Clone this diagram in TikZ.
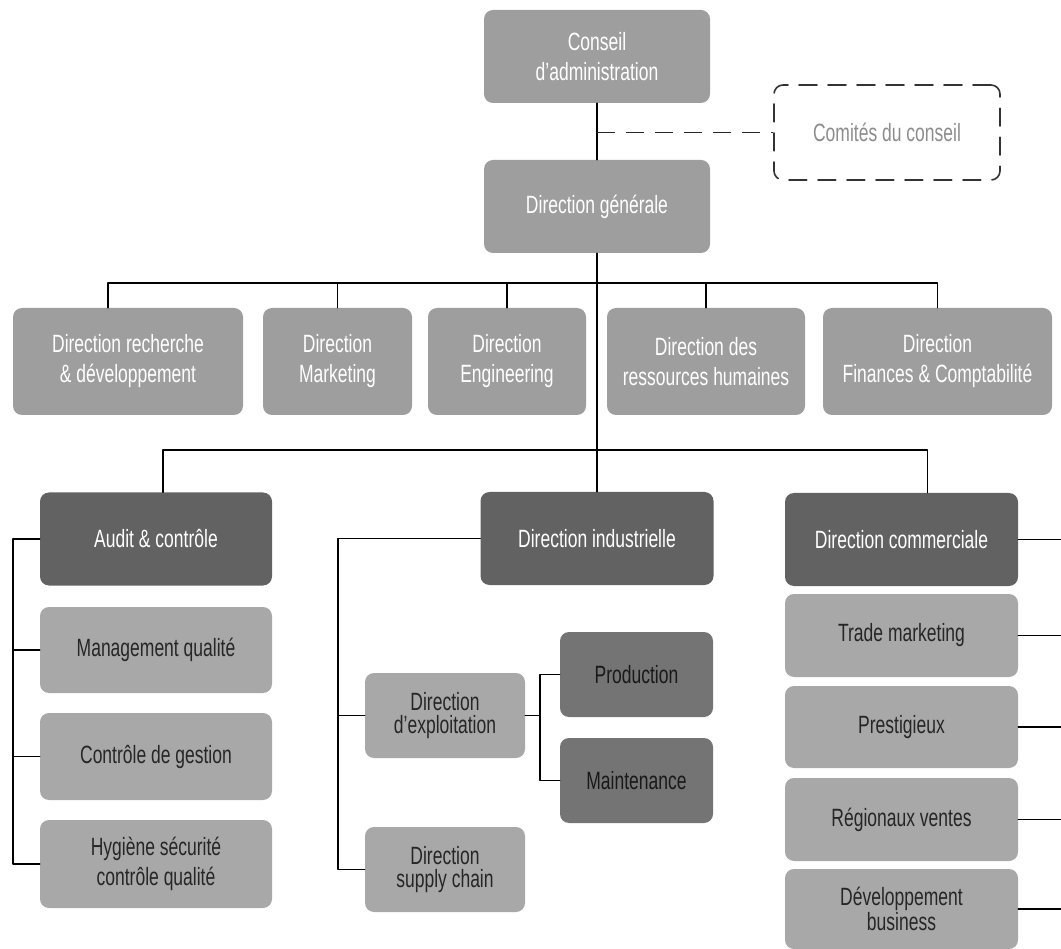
\documentclass[tikz,border=0pt]{standalone}
\usepackage{fontspec}
\setmainfont[FakeStretch=0.7]{Liberation Sans}
\definecolor{unitgray}{HTML}{9E9E9E}
\definecolor{subgray}{HTML}{A8A8A8}
\definecolor{headgray}{HTML}{626262}
\definecolor{opgray}{HTML}{747474}
\definecolor{inkgray}{HTML}{262626}
\begin{document}
\begin{tikzpicture}[x=1pt,y=-1pt,line join=round,line cap=round,font=\fontsize{25}{30}\selectfont,
		unit/.style={rectangle,rounded corners=9pt,fill=unitgray,text=white,align=center,inner sep=0pt},
		sub/.style={unit,fill=subgray,text=inkgray},
		head/.style={unit,fill=headgray,text=white},
		op/.style={unit,fill=opgray,text=black!90},
		tight/.style={font=\fontsize{25}{23}\selectfont},
		link/.style={line width=1.3pt,black},
		dashlink/.style={line width=1.6pt,black!85,line cap=butt,dash pattern=on 18pt off 11pt}]
			\useasboundingbox (0,0) rectangle (1061,949);
			\path
			(597,283) coordinate (bus2)
			(597,450) coordinate (bus3)
			(13,0) coordinate (auditbus)
			(338,0) coordinate (indusbus)
			(540,0) coordinate (exploitbus)
			(1061,0) coordinate (redge);
			\node [unit,minimum width=226,minimum height=93] (conseil) at (597,56.5) {Conseil\\d’administration};
			\node [unit,minimum width=226,minimum height=93] (generale) at (597,206.5) {Direction générale};
			\node [rectangle,rounded corners=9pt,draw=black!80,line width=1.6pt,dash pattern=on 18pt off 11pt,text=black!45,
				minimum width=226,minimum height=95] (comites) at (887,132.5) {Comités du conseil};
			\node [unit,minimum width=230,minimum height=107] (rd) at (128,361.5) {Direction recherche\\\& développement};
			\node [unit,minimum width=149,minimum height=107] (mkt) at (337.5,361.5) {Direction\\Marketing};
			\node [unit,minimum width=158,minimum height=107] (eng) at (507,361.5) {Direction\\Engineering};
			\node [unit,minimum width=198,minimum height=107] (rh) at (706,361.5) {Direction des\\ressources humaines};
			\node [unit,minimum width=229,minimum height=107] (fin) at (937.5,361.5) {Direction\\Finances \& Comptabilité};
			\node [head,minimum width=232,minimum height=93] (audit) at (156,539) {Audit \& contrôle};
			\node [sub,minimum width=232,minimum height=86] (mq) at (156,650) {Management qualité};
			\node [sub,minimum width=232,minimum height=87] (cg) at (156,756.5) {Contrôle de gestion};
			\node [sub,minimum width=232,minimum height=88] (hyg) at (156,864) {Hygiène sécurité\\contrôle qualité};
			\node [head,minimum width=233,minimum height=93] (indus) at (597,538.5) {Direction industrielle};
			\node [sub,tight,minimum width=160,minimum height=85] (exploit) at (445,715.5) {Direction\\d’exploitation};
			\node [sub,tight,minimum width=160,minimum height=85] (supply) at (445,869.5) {Direction\\supply chain};
			\node [op,minimum width=153,minimum height=85] (prod) at (636.5,674.5) {Production};
			\node [op,minimum width=153,minimum height=85] (maint) at (636.5,780.5) {Maintenance};
			\node [head,minimum width=233,minimum height=93] (comm) at (901.5,539.5) {Direction commerciale};
			\node [sub,minimum width=233,minimum height=83] (trade) at (901.5,635.5) {Trade marketing};
			\node [sub,minimum width=233,minimum height=82] (prest) at (901.5,727) {Prestigieux};
			\node [sub,minimum width=233,minimum height=83] (reg) at (901.5,819.5) {Régionaux ventes};
			\node [sub,tight,minimum width=233,minimum height=80] (dev) at (901.5,909) {Développement\\business};
			\draw [link] (conseil.south)--(generale.north);
			\draw [link] (generale.south)--(indus.north);
			\draw [dashlink] (conseil.south |- comites.west)--(comites.west);
			\draw [link] ([xshift=-20pt]rd.north) |- (bus2) -| (fin.north);
			\draw [link] (mkt.north)--(mkt.north |- bus2);
			\draw [link] (eng.north)--(eng.north |- bus2);
			\draw [link] (rh.north)--(rh.north |- bus2);
			\draw [link] ([xshift=7pt]audit.north) |- (bus3) -| ([xshift=26pt]comm.north);
			\draw [link] (audit.west) -- (audit.west -| auditbus) |- (hyg.west);
			\draw [link] (mq.west)--(mq.west -| auditbus);
			\draw [link] (cg.west)--(cg.west -| auditbus);
			\draw [link] (indus.west) -- (indus.west -| indusbus) |- (supply.west);
			\draw [link] (exploit.west)--(exploit.west -| indusbus);
			\draw [link] (exploit.east)--(exploit.east -| exploitbus);
			\draw [link] (prod.west) -| (exploitbus |- prod.west) |- (maint.west);
			\draw [link] (comm.east)--(comm.east -| redge);
			\draw [link] (trade.east)--(trade.east -| redge);
			\draw [link] (prest.east)--(prest.east -| redge);
			\draw [link] (reg.east)--(reg.east -| redge);
			\draw [link] (dev.east)--(dev.east -| redge);
		\end{tikzpicture}
\end{document}
